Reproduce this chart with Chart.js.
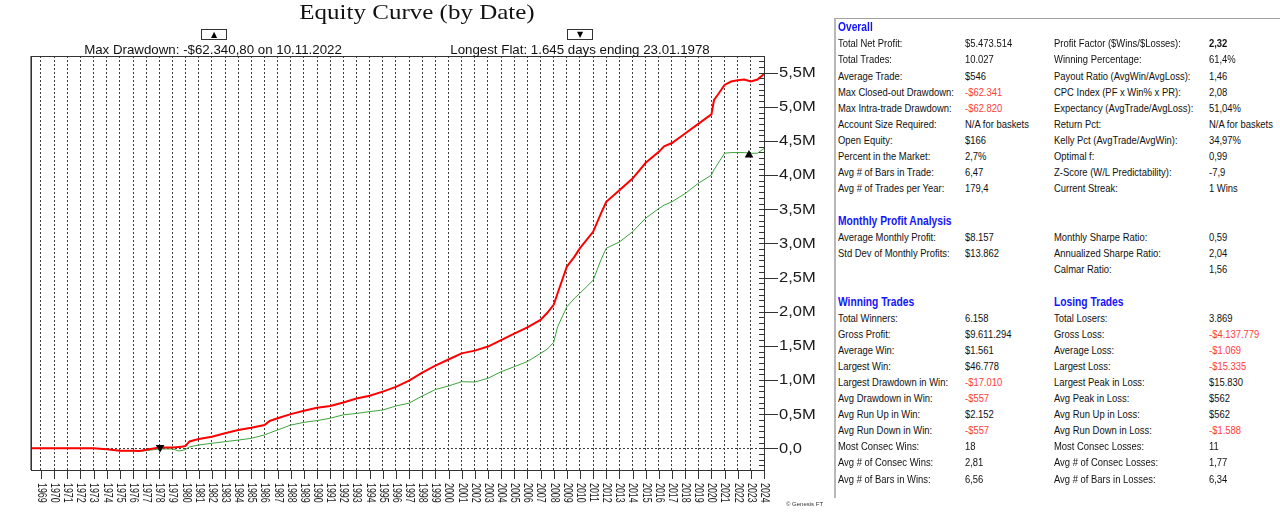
<!DOCTYPE html>
<html>
<head>
<meta charset="utf-8">
<title>Equity Curve (by Date)</title>
<script src="https://cdn.jsdelivr.net/npm/chart.js@4.4.1/dist/chart.umd.min.js"></script>
<style>
  body { margin:0; width:1280px; height:515px; overflow:hidden; background:#fff; position:relative; font-family:"Liberation Sans", Arial, sans-serif; }
  #chartBox { position:absolute; left:0; top:0; width:830px; height:515px; }
  .lbl { position:absolute; white-space:nowrap; color:#111; }
  #title { left:167px; width:500px; top:2px; text-align:center; font-family:"Liberation Serif","Times New Roman",serif; font-size:25px; line-height:25px; transform:scaleY(0.83); transform-origin:top; }
  .note { font-size:13.3px; line-height:14px; width:320px; text-align:center; }
  .marker { position:absolute; top:29px; width:24px; height:9px; border:1px solid #333; font-family:"DejaVu Sans", sans-serif; font-size:8px; line-height:9px; text-align:center; color:#000; }
  #panel { position:absolute; left:834px; top:18px; width:446px; height:479px; border-top:1px solid #a0a0a0; border-left:2px solid #b8b8b8; }
  .cell { position:absolute; white-space:nowrap; font-size:11.5px; line-height:16px; transform:scaleX(0.82); transform-origin:left center; color:#111; }
  .head { font-weight:bold; color:#1414ff; font-size:12.5px; }
  .neg { color:#ff3c3c; }
  .bold { font-weight:bold; }
  #copy { left:786px; top:501px; font-size:6px; color:#333; }
</style>
</head>
<body>
<div id="chartBox"><canvas id="chartEquity" width="830" height="515"></canvas></div>
<div class="lbl" id="title">Equity Curve (by Date)</div>
<div class="marker" style="left:201px">▲</div>
<div class="marker" style="left:567px">▼</div>
<div class="lbl note" style="left:53px; top:43px">Max Drawdown: -$62.340,80 on 10.11.2022</div>
<div class="lbl note" style="left:420px; top:43px">Longest Flat: 1.645 days ending 23.01.1978</div>
<div class="lbl" id="copy">© Genesis FT</div>
<div id="panel"></div>
<script>
// dates as fractional years, equity in $M
const dates = [1968.24, 1969, 1970, 1971, 1972, 1973, 1974, 1975, 1976, 1976.5, 1977, 1978, 1979, 1979.5, 1979.8, 1980, 1980.3,
  1981, 1982, 1983, 1984, 1985, 1986, 1986.4, 1987, 1988, 1989, 1990, 1991, 1992, 1993, 1994, 1995, 1996, 1997, 1998, 1999,
  2000, 2001, 2002, 2003, 2004, 2005, 2006, 2007, 2007.5, 2008, 2008.3, 2009, 2009.6, 2010, 2011, 2011.6, 2012, 2013, 2014,
  2015, 2016, 2016.4, 2017, 2018, 2019, 2020, 2020.2, 2020.5, 2021, 2021.5, 2022, 2022.5, 2023, 2023.5, 2024];
const equityTotal = [0, 0, 0, 0, 0, 0, -0.015, -0.035, -0.035, -0.04, -0.02, 0.01, 0.01, 0.02, 0.025, 0.035, 0.10,
  0.136, 0.17, 0.22, 0.268, 0.30, 0.34, 0.40, 0.44, 0.50, 0.55, 0.594, 0.62, 0.67, 0.73, 0.77, 0.83, 0.90, 0.99, 1.107, 1.21,
  1.30, 1.39, 1.43, 1.49, 1.585, 1.68, 1.77, 1.88, 1.98, 2.10, 2.27, 2.66, 2.81, 2.93, 3.17, 3.44, 3.61, 3.78, 3.95,
  4.18, 4.34, 4.42, 4.47, 4.61, 4.75, 4.89, 5.10, 5.18, 5.32, 5.37, 5.39, 5.40, 5.37, 5.40, 5.48];
const equityClosed = [0, 0, 0, 0, 0, 0, -0.015, -0.035, -0.04, -0.045, -0.035, -0.01, -0.01, -0.04, -0.03, -0.015, 0.02,
  0.048, 0.073, 0.097, 0.12, 0.146, 0.195, 0.225, 0.268, 0.34, 0.38, 0.405, 0.44, 0.49, 0.51, 0.537, 0.56, 0.62, 0.66, 0.766, 0.86,
  0.912, 0.975, 0.97, 1.025, 1.12, 1.195, 1.27, 1.39, 1.45, 1.55, 1.78, 2.07, 2.20, 2.27, 2.46, 2.76, 2.93, 3.02, 3.17,
  3.37, 3.51, 3.56, 3.61, 3.73, 3.88, 4.00, 4.08, 4.17, 4.32, 4.33, 4.33, 4.33, 4.32, 4.32, 4.39];
const flatEnd = [{x: 1978.06, y: 0.012}];
const maxDrawdown = [{x: 2022.86, y: 4.294}];

const years = [1969, 1970, 1971, 1972, 1973, 1974, 1975, 1976, 1977, 1978, 1979, 1980, 1981, 1982, 1983, 1984, 1985, 1986,
  1987, 1988, 1989, 1990, 1991, 1992, 1993, 1994, 1995, 1996, 1997, 1998, 1999, 2000, 2001, 2002, 2003, 2004, 2005, 2006,
  2007, 2008, 2009, 2010, 2011, 2012, 2013, 2014, 2015, 2016, 2017, 2018, 2019, 2020, 2021, 2022, 2023, 2024];
const yTickValues = [0, 0.5, 1.0, 1.5, 2.0, 2.5, 3.0, 3.5, 4.0, 4.5, 5.0, 5.5];
const yTickLabels = ['0,0', '0,5M', '1,0M', '1,5M', '2,0M', '2,5M', '3,0M', '3,5M', '4,0M', '4,5M', '5,0M', '5,5M'];
const yMinorStep = 0.5 / 6;

// axis frame, tick marks and labels
const axisDecor = {
  id: 'axisDecor',
  afterDraw(chart) {
    const {ctx, chartArea: a, scales: {x, y}} = chart;
    ctx.save();
    ctx.fillStyle = '#8a8a8a';
    ctx.fillRect(a.left - 1, a.top, 2, a.bottom - a.top);
    ctx.strokeStyle = '#333';
    ctx.lineWidth = 1;
    ctx.strokeRect(Math.round(a.left) + 0.5, Math.round(a.top) + 0.5, Math.round(a.right - a.left), Math.round(a.bottom - a.top));

    // y ticks
    ctx.beginPath();
    for (let k = -6; k <= 72; k++) {
      const py = Math.round(y.getPixelForValue(k * yMinorStep)) + 0.5;
      if (py < a.top || py > a.bottom) continue;
      const major = k % 6 === 0;
      ctx.moveTo(a.right - 5, py);
      ctx.lineTo(a.right + (major ? 14 : 0), py);
    }
    // x ticks
    years.forEach(yr => {
      const px = Math.round(x.getPixelForValue(yr)) + 0.5;
      ctx.moveTo(px, a.bottom);
      ctx.lineTo(px, a.bottom + 9);
    });
    ctx.stroke();

    ctx.fillStyle = '#1a1a1a';
    ctx.font = '16.5px "Liberation Sans", Arial, sans-serif';
    ctx.textAlign = 'left';
    ctx.textBaseline = 'middle';
    yTickValues.forEach((v, i) => {
      ctx.save();
      ctx.translate(a.right + 15, y.getPixelForValue(v) + 0.5);
      ctx.scale(1, 0.85);
      ctx.fillText(yTickLabels[i], 0, 0);
      ctx.restore();
    });

    ctx.font = '13px "Liberation Sans", Arial, sans-serif';
    years.forEach(yr => {
      ctx.save();
      ctx.translate(x.getPixelForValue(yr) + 0.5, a.bottom + 13);
      ctx.rotate(Math.PI / 2);
      ctx.scale(0.68, 1);
      ctx.fillText(String(yr), 0, 0);
      ctx.restore();
    });
    ctx.restore();
  }
};

const ctx = document.getElementById('chartEquity');
new Chart(ctx, {
  type: 'line',
  data: {
    datasets: [{
      label: 'Max Drawdown',
      data: maxDrawdown,
      showLine: false,
      pointStyle: 'triangle',
      pointRadius: 5,
      pointBackgroundColor: '#000',
      pointBorderColor: '#000',
      pointBorderWidth: 0
    }, {
      label: 'Longest Flat',
      data: flatEnd,
      showLine: false,
      pointStyle: 'triangle',
      pointRotation: 180,
      pointRadius: 5,
      pointBackgroundColor: '#000',
      pointBorderColor: '#000',
      pointBorderWidth: 0
    }, {
      label: 'Equity',
      data: dates.map((d, i) => ({x: d, y: equityTotal[i]})),
      borderColor: '#ff0000',
      borderWidth: 2,
      pointRadius: 0
    }, {
      label: 'Closed Equity',
      data: dates.map((d, i) => ({x: d, y: equityClosed[i]})),
      borderColor: '#3ca53c',
      borderWidth: 1,
      pointRadius: 0
    }]
  },
  options: {
    responsive: false,
    animation: false,
    layout: {padding: {left: 31, top: 56, right: 66, bottom: 45}},
    plugins: {legend: {display: false}, tooltip: {enabled: false}},
    scales: {
      x: {
        type: 'linear',
        min: 1968.24,
        max: 2024,
        afterBuildTicks: s => { s.ticks = years.map(v => ({value: v})); },
        ticks: {display: false},
        grid: {color: '#3c3c3c', lineWidth: 1, drawTicks: false},
        border: {display: false, dash: [2, 2]}
      },
      y: {
        type: 'linear',
        position: 'right',
        min: -0.318,
        max: 5.744,
        afterBuildTicks: s => { s.ticks = [{value: 0}]; },
        ticks: {display: false},
        grid: {color: '#3c3c3c', lineWidth: 1, drawTicks: false},
        border: {display: false, dash: [2, 2]}
      }
    }
  },
  plugins: [axisDecor]
});

// statistics panel
const overallLeft = [
  ['Total Net Profit:', '$5.473.514'], ['Total Trades:', '10.027'], ['Average Trade:', '$546'],
  ['Max Closed-out Drawdown:', '-$62.341', 'neg'], ['Max Intra-trade Drawdown:', '-$62.820', 'neg'],
  ['Account Size Required:', 'N/A for baskets'], ['Open Equity:', '$166'], ['Percent in the Market:', '2,7%'],
  ['Avg # of Bars in Trade:', '6,47'], ['Avg # of Trades per Year:', '179,4']];
const overallRight = [
  ['Profit Factor ($Wins/$Losses):', '2,32', 'bold'], ['Winning Percentage:', '61,4%'], ['Payout Ratio (AvgWin/AvgLoss):', '1,46'],
  ['CPC Index (PF x Win% x PR):', '2,08'], ['Expectancy (AvgTrade/AvgLoss):', '51,04%'], ['Return Pct:', 'N/A for baskets'],
  ['Kelly Pct (AvgTrade/AvgWin):', '34,97%'], ['Optimal f:', '0,99'], ['Z-Score (W/L Predictability):', '-7,9'],
  ['Current Streak:', '1 Wins']];
const monthlyLeft = [['Average Monthly Profit:', '$8.157'], ['Std Dev of Monthly Profits:', '$13.862']];
const monthlyRight = [['Monthly Sharpe Ratio:', '0,59'], ['Annualized Sharpe Ratio:', '2,04'], ['Calmar Ratio:', '1,56']];
const winningRows = [
  ['Total Winners:', '6.158'], ['Gross Profit:', '$9.611.294'], ['Average Win:', '$1.561'], ['Largest Win:', '$46.778'],
  ['Largest Drawdown in Win:', '-$17.010', 'neg'], ['Avg Drawdown in Win:', '-$557', 'neg'], ['Avg Run Up in Win:', '$2.152'],
  ['Avg Run Down in Win:', '-$557', 'neg'], ['Most Consec Wins:', '18'], ['Avg # of Consec Wins:', '2,81'],
  ['Avg # of Bars in Wins:', '6,56']];
const losingRows = [
  ['Total Losers:', '3.869'], ['Gross Loss:', '-$4.137.779', 'neg'], ['Average Loss:', '-$1.069', 'neg'],
  ['Largest Loss:', '-$15.335', 'neg'], ['Largest Peak in Loss:', '$15.830'], ['Avg Peak in Loss:', '$562'],
  ['Avg Run Up in Loss:', '$562'], ['Avg Run Down in Loss:', '-$1.588', 'neg'], ['Most Consec Losses:', '11'],
  ['Avg # of Consec Losses:', '1,77'], ['Avg # of Bars in Losses:', '6,34']];

const rowH = 16.1;
function cell(text, x, yc, cls) {
  const d = document.createElement('div');
  d.className = 'cell' + (cls ? ' ' + cls : '');
  d.textContent = text;
  d.style.left = x + 'px';
  d.style.top = (yc - 8) + 'px';
  document.body.appendChild(d);
}
function block(rows, xLabel, xValue, yHead) {
  rows.forEach((r, i) => {
    const yc = yHead + rowH * (i + 1);
    cell(r[0], xLabel, yc);
    cell(r[1], xValue, yc, r[2]);
  });
}
cell('Overall', 838, 27, 'head');
block(overallLeft, 838, 965, 27.2);
block(overallRight, 1054, 1209, 27.2);
cell('Monthly Profit Analysis', 838, 220.7, 'head');
block(monthlyLeft, 838, 965, 220.7);
block(monthlyRight, 1054, 1209, 220.7);
cell('Winning Trades', 838, 301.5, 'head');
cell('Losing Trades', 1054, 301.5, 'head');
block(winningRows, 838, 965, 301.4);
block(losingRows, 1054, 1209, 301.4);
</script>
</body>
</html>
